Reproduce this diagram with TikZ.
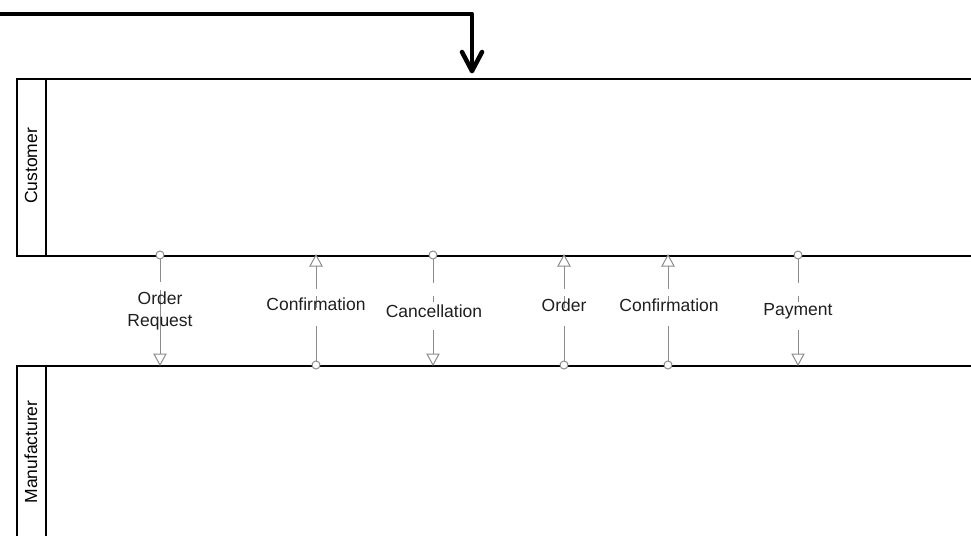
\documentclass[tikz,border=0pt]{standalone}
\usepackage{fontspec}
\setmainfont{Liberation Sans}
\begin{document}
\begin{tikzpicture}[x=1pt,y=-1pt,
  lane/.style={draw=black,line width=1.7pt,inner sep=0pt,anchor=north west},
  sep/.style={draw=black,line width=1.7pt},
  msg/.style={draw=black!45,line width=1pt},
  lbl/.style={font=\fontsize{17.5}{22}\selectfont,text=black!88,inner sep=0pt,align=center},
  lanelbl/.style={font=\fontsize{17.5}{20}\selectfont,text=black,inner sep=0pt,rotate=90},
  flow/.style={draw=black,line width=4.5pt,line cap=round,line join=round},
  tridn/.pic={\draw[msg,fill=white] (0,0)--(-6,-11)--(6,-11)--cycle;},
  triup/.pic={\draw[msg,fill=white] (0,0)--(-6,11)--(6,11)--cycle;}]
\useasboundingbox (0,0) rectangle (971,535);
\clip (0,0) rectangle (971,535);
% lanes
\node[lane,minimum width=970pt,minimum height=177pt] (cust) at (16,78) {};
\node[lane,minimum width=970pt,minimum height=200pt] (manu) at (16,365) {};
\draw[sep] (46,78) -- (46,255);
\draw[sep] (46,365) -- (46,540);
\node[lanelbl] (custlbl) at (31,166) {Customer};
\node[lanelbl] (manulbl) at (31,452) {Manufacturer};
% thick flow arrow
\coordinate (fstart) at (-5,14);
\coordinate (fcorner) at (472,14);
\coordinate (ftip) at (472,71);
\draw[flow] (fstart) -- (fcorner) -- (ftip);
\draw[flow] (462,52) -- (ftip) -- (482,52);
% message 1: Order Request (down)
\coordinate (m1t) at (160,255); \coordinate (m1b) at (160,365);
\draw[msg] (160,259) -- (160,282); \draw[msg] (160,290) -- (160,354);
\draw[msg,fill=white] (m1t) circle (4);
\pic at (m1b) {tridn};
\node[lbl] (l1) at (160,311) {Order\\Request};
% message 2: Confirmation (up)
\coordinate (m2t) at (316,255); \coordinate (m2b) at (316,365);
\draw[msg] (316,266) -- (316,289); \draw[msg] (316,296) -- (316,308); \draw[msg] (316,326) -- (316,361);
\draw[msg,fill=white] (m2b) circle (4);
\pic at (m2t) {triup};
\node[lbl] (l2) at (316,304) {Confirmation};
% message 3: Cancellation (down)
\coordinate (m3t) at (433,255); \coordinate (m3b) at (433,365);
\draw[msg] (433,259) -- (433,283); \draw[msg] (433,296) -- (433,302); \draw[msg] (433,330) -- (433,354);
\draw[msg,fill=white] (m3t) circle (4);
\pic at (m3b) {tridn};
\node[lbl] (l3) at (434,311) {Cancellation};
% message 4: Order (up)
\coordinate (m4t) at (564,255); \coordinate (m4b) at (564,365);
\draw[msg] (564,266) -- (564,289); \draw[msg] (564,296) -- (564,308); \draw[msg] (564,326) -- (564,361);
\draw[msg,fill=white] (m4b) circle (4);
\pic at (m4t) {triup};
\node[lbl] (l4) at (564,305) {Order};
% message 5: Confirmation (up)
\coordinate (m5t) at (668,255); \coordinate (m5b) at (668,365);
\draw[msg] (668,266) -- (668,289); \draw[msg] (668,296) -- (668,308); \draw[msg] (668,326) -- (668,361);
\draw[msg,fill=white] (m5b) circle (4);
\pic at (m5t) {triup};
\node[lbl] (l5) at (669,305) {Confirmation};
% message 6: Payment (down)
\coordinate (m6t) at (798,255); \coordinate (m6b) at (798,365);
\draw[msg] (798,259) -- (798,283); \draw[msg] (798,296) -- (798,302); \draw[msg] (798,330) -- (798,354);
\draw[msg,fill=white] (m6t) circle (4);
\pic at (m6b) {tridn};
\node[lbl] (l6) at (798,311) {Payment};
\end{tikzpicture}
\end{document}
